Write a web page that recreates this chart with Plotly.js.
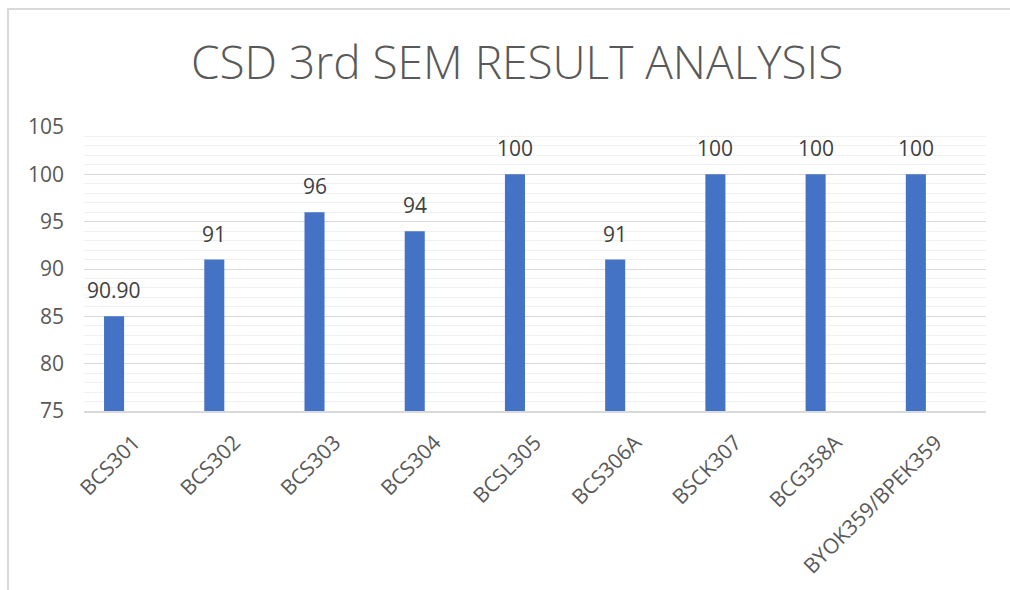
<!DOCTYPE html>
<html>
<head>
<meta charset="utf-8">
<script src="https://cdn.plot.ly/plotly-3.0.1.min.js"></script>
<style>
  html, body { margin: 0; padding: 0; background: #fff; }
  #wrap { position: relative; width: 1010px; height: 590px; }
  #chart { width: 1010px; height: 590px; }
  #frame { position: absolute; left: 7px; top: 8px; width: 1010px; height: 600px;
           border-left: 2px solid #d9d9d9; border-top: 2px solid #d9d9d9; pointer-events: none; }
</style>
</head>
<body>
<div id="wrap">
  <div id="chart"></div>
  <div id="frame"></div>
</div>
<script>
const subjects = ["BCS301", "BCS302", "BCS303", "BCS304", "BCSL305", "BCS306A", "BSCK307", "BCG358A", "BYOK359/BPEK359"];
const passPercent = [85, 91, 96, 94, 100, 91, 100, 100, 100];
const valueLabels = ["90.90", "91", "96", "94", "100", "91", "100", "100", "100"];
const yTicks = [75, 80, 85, 90, 95, 100, 105];

const font = "'Open Sans', 'Liberation Sans', sans-serif";

const trace = {
  type: "bar",
  x: subjects,
  y: passPercent,
  width: 0.2,
  offset: -0.3,
  marker: { color: "#4472C4" },
  hoverinfo: "x+y"
};

const annotations = subjects.map((s, i) => ({
  x: s,
  y: passPercent[i],
  xref: "x",
  yref: "y",
  text: valueLabels[i],
  showarrow: false,
  yanchor: "bottom",
  xanchor: "center",
  xshift: -20,
  yshift: 10,
  font: { family: font, size: 21, color: "#404040" }
}));

const layout = {
  width: 1010,
  height: 590,
  margin: { l: 84, r: 24, t: 127, b: 179 },
  paper_bgcolor: "#ffffff",
  plot_bgcolor: "#ffffff",
  showlegend: false,
  title: {
    text: "CSD 3rd SEM RESULT ANALYSIS",
    x: 0.512,
    xanchor: "center",
    y: 0.893,
    yanchor: "middle",
    font: { family: font, size: 46, color: "#595959", weight: 300 }
  },
  xaxis: {
    type: "category",
    tickangle: -45,
    showgrid: false,
    showline: true,
    linecolor: "#d9d9d9",
    linewidth: 2,
    ticks: "",
    ticklabelstandoff: 9,
    tickfont: { family: font, size: 21, color: "#595959" }
  },
  yaxis: {
    range: [75, 105],
    tickvals: yTicks,
    showgrid: true,
    gridcolor: "#d9d9d9",
    gridwidth: 1,
    zeroline: false,
    showline: false,
    ticks: "",
    ticklabelstandoff: 19,
    tickfont: { family: font, size: 21, color: "#595959" },
    minor: { dtick: 1, showgrid: true, gridcolor: "#f0f0f0", gridwidth: 1, ticks: "" }
  },
  annotations: annotations
};

Plotly.newPlot("chart", [trace], layout, { displayModeBar: false, staticPlot: true });
</script>
</body>
</html>
